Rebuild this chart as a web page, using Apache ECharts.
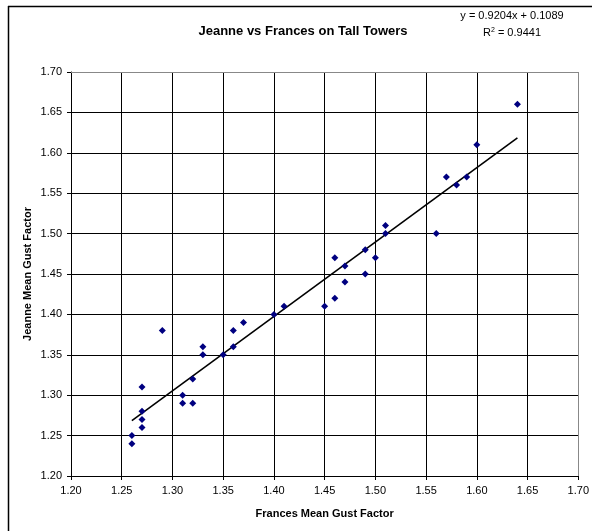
<!DOCTYPE html>
<html>
<head>
<meta charset="utf-8">
<script src="https://cdn.jsdelivr.net/npm/echarts@6/dist/echarts.min.js"></script>
<style>
html,body{margin:0;padding:0;background:#fff;}
#chart{width:592px;height:531px;}
</style>
</head>
<body>
<div id="chart"></div>
<script>
// Data
var frances = [1.26,1.26,1.27,1.27,1.27,1.27,1.29,1.31,1.31,1.32,1.32,1.33,1.33,1.35,1.36,1.36,1.37,1.40,1.41,1.45,1.46,1.46,1.47,1.47,1.49,1.49,1.50,1.51,1.51,1.56,1.57,1.58,1.59,1.60,1.64];
var jeanne  = [1.24,1.25,1.26,1.27,1.28,1.31,1.38,1.29,1.30,1.29,1.32,1.35,1.36,1.35,1.36,1.38,1.39,1.40,1.41,1.41,1.42,1.47,1.44,1.46,1.45,1.48,1.47,1.50,1.51,1.50,1.57,1.56,1.57,1.61,1.66];
var slope = 0.9204;
var intercept = 0.1089;
var r2 = 0.9441;
var titleText = 'Jeanne vs Frances on Tall Towers';
var xName = 'Frances Mean Gust Factor';
var yName = 'Jeanne Mean Gust Factor';

var points = frances.map(function(x, i){ return [x, jeanne[i]]; });
var xMin = Math.min.apply(null, frances), xMax = Math.max.apply(null, frances);
var trend = [[xMin, slope*xMin + intercept], [xMax, slope*xMax + intercept]];

var gridColors = [];
for (var i = 0; i < 10; i++) gridColors.push('#000');
gridColors.push('#888');

var font = '"Liberation Sans", Arial, sans-serif';
var chart = echarts.init(document.getElementById('chart'), null, {renderer:'canvas'});
chart.setOption({
  animation: false,
  backgroundColor: '#fff',
  grid: {left: 71, top: 72, right: 13.5, bottom: 55, show: false},
  xAxis: {
    type: 'value', min: 1.2, max: 1.7, interval: 0.05,
    name: xName, nameLocation: 'middle', nameGap: 32, nameMoveOverlap: false,
    nameTextStyle: {fontFamily: font, fontSize: 11, fontWeight: 'bold', color: '#000'},
    axisLine: {show: true, lineStyle: {color: '#000', width: 1}},
    axisTick: {show: true, length: 4, inside: false, lineStyle: {color: '#000'}},
    axisLabel: {fontFamily: font, fontSize: 11, color: '#000', margin: 9,
      formatter: function(v){ return v.toFixed(2); }},
    splitLine: {show: true, lineStyle: {color: gridColors, width: 1}}
  },
  yAxis: {
    type: 'value', min: 1.2, max: 1.7, interval: 0.05,
    name: yName, nameLocation: 'middle', nameGap: 38, nameRotate: 90, nameMoveOverlap: false,
    nameTextStyle: {fontFamily: font, fontSize: 11, fontWeight: 'bold', color: '#000'},
    axisLine: {show: true, lineStyle: {color: '#000', width: 1}},
    axisTick: {show: true, length: 4, inside: false, lineStyle: {color: '#000'}},
    axisLabel: {fontFamily: font, fontSize: 11, color: '#000', margin: 9,
      formatter: function(v){ return v.toFixed(2); }},
    splitLine: {show: true, lineStyle: {color: gridColors, width: 1}}
  },
  series: [
    {
      type: 'line', data: trend, symbol: 'none', silent: true,
      lineStyle: {color: '#000', width: 1.6}, z: 3
    },
    {
      type: 'scatter', data: points, symbol: 'diamond', symbolSize: 7,
      itemStyle: {color: '#000080', opacity: 1}, z: 4
    }
  ],
  graphic: [
    {type: 'line', shape: {x1: 8.5, y1: 6, x2: 8.5, y2: 531}, style: {stroke: '#000', lineWidth: 1.5}, silent: true},
    {type: 'line', shape: {x1: 8, y1: 6.5, x2: 592, y2: 6.5}, style: {stroke: '#000', lineWidth: 1.5}, silent: true},
    {type: 'line', shape: {x1: 578.5, y1: 72, x2: 578.5, y2: 476}, style: {stroke: '#888', lineWidth: 1}, silent: true, z: 10},
    {type: 'line', shape: {x1: 71, y1: 72.5, x2: 578.5, y2: 72.5}, style: {stroke: '#888', lineWidth: 1}, silent: true, z: 10},
    {type: 'text', x: 303, y: 31, style: {text: titleText, font: 'bold 13px ' + font, fill: '#000', textAlign: 'center', textVerticalAlign: 'middle'}},
    {type: 'text', x: 512, y: 16, style: {text: 'y = ' + slope.toFixed(4) + 'x + ' + intercept.toFixed(4), font: '11px ' + font, fill: '#000', textAlign: 'center', textVerticalAlign: 'middle'}},
    {type: 'text', x: 512, y: 33, style: {
      text: '{n|R}{s|2}{n| = ' + r2.toFixed(4) + '}',
      rich: {n: {fontFamily: font, fontSize: 11, fill: '#000', color: '#000'}, s: {fontFamily: font, fontSize: 7, color: '#000', padding: [0,0,6,0]}},
      textAlign: 'center', textVerticalAlign: 'middle'}}
  ]
});
</script>
</body>
</html>
